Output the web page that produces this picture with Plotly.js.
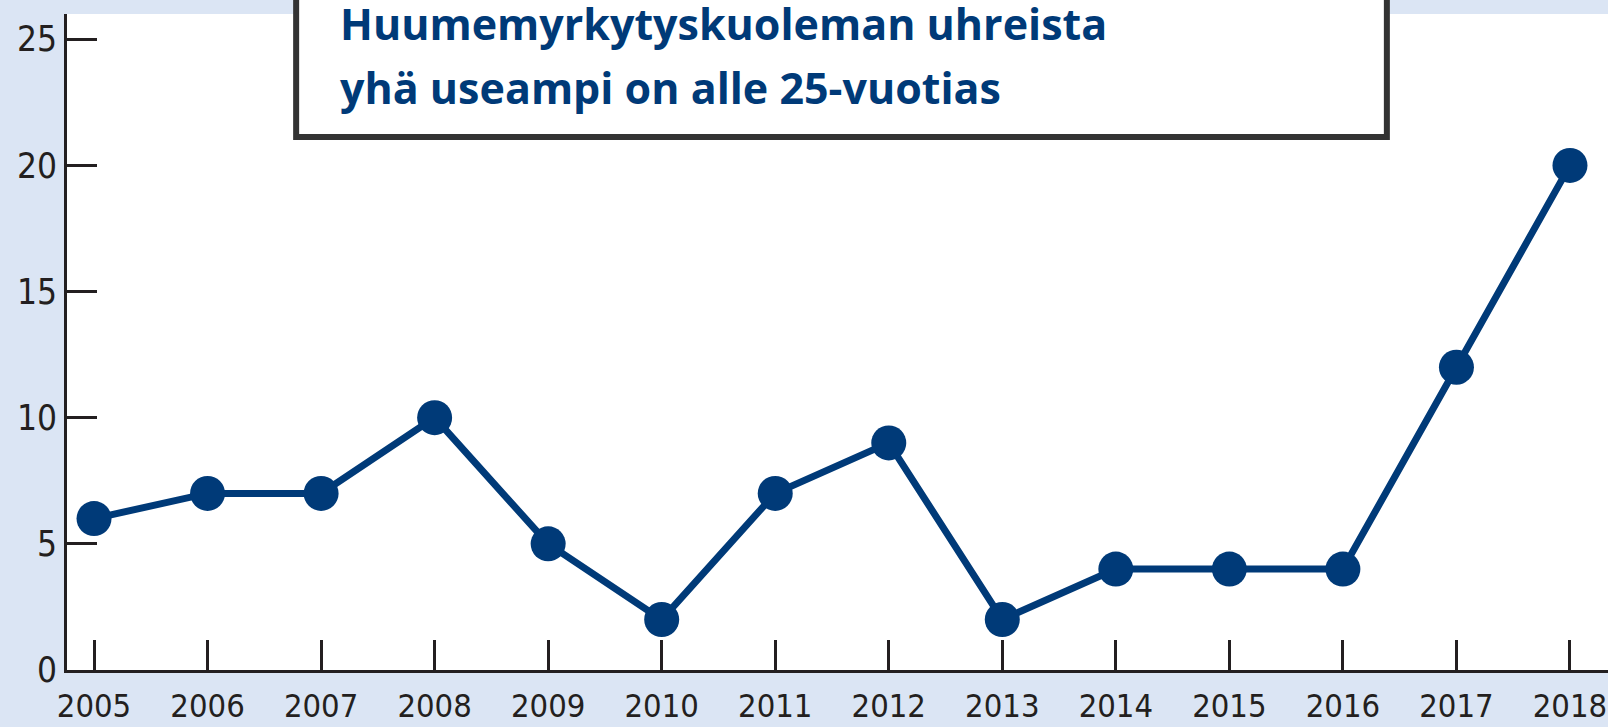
<!DOCTYPE html>
<html>
<head>
<meta charset="utf-8">
<script src="https://cdn.plot.ly/plotly-3.0.1.min.js"></script>
<style>html,body{margin:0;padding:0;background:#dbe5f4;}#chart{width:1608px;height:727px;}</style>
</head>
<body>
<div id="chart"></div>
<script>
const years = [2005, 2006, 2007, 2008, 2009, 2010, 2011, 2012, 2013, 2014, 2015, 2016, 2017, 2018];
const deaths = [6, 7, 7, 10, 5, 2, 7, 9, 2, 4, 4, 4, 12, 20];
const yTicks = [0, 5, 10, 15, 20, 25];
const titleLines = ["Huumemyrkytyskuoleman uhreista", "yhä useampi on alle 25-vuotias"];

const fam = '"DejaVu Sans Condensed", "DejaVu Sans", sans-serif';
const xTickFont = {family: fam, stretch: 'condensed', size: 32.5, color: '#231f20'};
const yTickFont = {family: fam, stretch: 'condensed', size: 35, color: '#231f20'};
const titleFont = {family: '"Open Sans", "Noto Sans", sans-serif', size: 43, color: '#003a78', weight: 700};
const navy = '#003a78';
const ink = '#231f20';

const trace = {
  x: years, y: deaths, type: 'scatter', mode: 'lines+markers',
  line: {color: navy, width: 7},
  marker: {color: navy, size: 35},
  cliponaxis: false, hoverinfo: 'skip'
};

const layout = {
  width: 1608, height: 727,
  margin: {l: 67, r: 0, t: 14, b: 57, pad: 0},
  paper_bgcolor: '#dbe5f4', plot_bgcolor: '#ffffff',
  showlegend: false,
  xaxis: {
    range: [2004.762, 2018.335], tickvals: years, ticktext: years.map(String),
    ticks: 'inside', ticklen: 30, tickwidth: 3, tickcolor: ink,
    showline: true, linecolor: ink, linewidth: 3, mirror: false,
    showgrid: false, zeroline: false, tickfont: xTickFont, ticklabelstandoff: 5,
    ticklabeloverflow: 'allow'
  },
  yaxis: {
    range: [0, 26], tickvals: yTicks, ticktext: yTicks.map(String),
    ticks: 'inside', ticklen: 30, tickwidth: 3, tickcolor: ink,
    showline: true, linecolor: ink, linewidth: 3,
    showgrid: false, zeroline: false, tickfont: yTickFont, ticklabelstandoff: 0,
    ticklabeloverflow: 'allow'
  },
  shapes: [{
    type: 'rect', xref: 'paper', yref: 'paper',
    x0: 0.1487, x1: 0.8565, y0: 0.8125, y1: 1.1,
    line: {color: '#333333', width: 6}, fillcolor: '#ffffff', layer: 'above'
  }],
  annotations: titleLines.map((t, i) => ({
    text: '<b>' + t + '</b>', xref: 'paper', yref: 'paper',
    x: 0.1766, xanchor: 'left', y: [0.986, 0.888][i], yanchor: 'middle',
    showarrow: false, font: titleFont, borderpad: 0
  }))
};

Plotly.newPlot('chart', [trace], layout, {staticPlot: true, displayModeBar: false});
</script>
</body>
</html>
